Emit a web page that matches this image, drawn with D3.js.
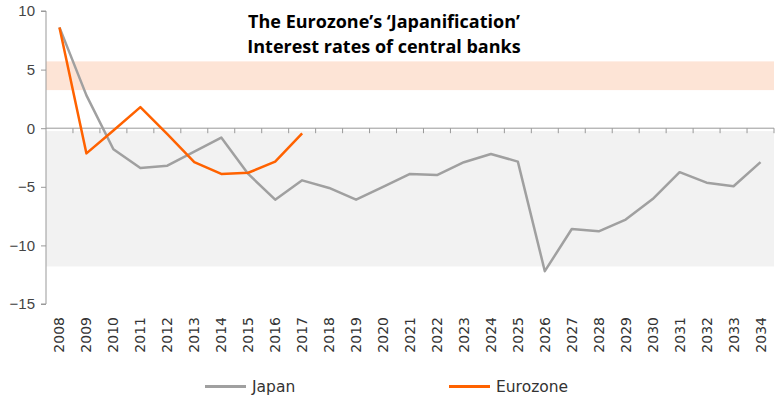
<!DOCTYPE html>
<html><head><meta charset="utf-8">
<script src="https://cdn.jsdelivr.net/npm/d3@7"></script>
<style>body{margin:0;background:#fff}svg{display:block}</style>
</head><body>
<svg id="c" width="784" height="404"></svg>
<script>
const years = d3.range(2008, 2035).map(String);
const japan = [8.6, 2.8, -1.8, -3.4, -3.2, -2.0, -0.8, -3.9, -6.1, -4.45, -5.1, -6.1, -5.0, -3.9, -4.0, -2.9, -2.2, -2.85, -12.2, -8.6, -8.8, -7.8, -6.05, -3.75, -4.65, -4.95, -2.9];
const eurozone = [8.6, -2.15, -0.2, 1.8, -0.5, -2.9, -3.9, -3.8, -2.85, -0.45];
const yTicks = [10, 5, 0, -5, -10, -15];
const orangeBand = [3.25, 5.7];
const grayBand = [-11.8, -0.25];
const titleLines = ["The Eurozone\u2019s \u2018Japanification\u2019", "Interest rates of central banks"];
const seriesNames = ["Japan", "Eurozone"];

const svg = d3.select("#c");
const L = 46, R = 774;
const x = d3.scaleBand().domain(years).range([L, R]);
const y = d3.scaleLinear().domain([-15, 10]).range([304, 11]);
const cx = d => x(d) + x.bandwidth() / 2;

// bands
svg.append("rect").attr("x", L).attr("width", R - L)
  .attr("y", y(orangeBand[1])).attr("height", y(orangeBand[0]) - y(orangeBand[1]))
  .attr("fill", "#fde4d6");
svg.append("rect").attr("x", L).attr("width", R - L)
  .attr("y", y(grayBand[1])).attr("height", y(grayBand[0]) - y(grayBand[1]))
  .attr("fill", "#f2f2f2");

// y axis
const ya = svg.append("g").attr("transform", `translate(${L},0)`)
  .call(d3.axisLeft(y).tickValues(yTicks).tickSize(5).tickPadding(6).tickFormat(d3.format("d")));
ya.select(".domain").attr("stroke", "#999").attr("d", `M-5,${y(10)}H0V${y(-15)}H-5`);
ya.selectAll(".tick line").attr("stroke", "#999");
ya.selectAll(".tick text").attr("font-family", "Liberation Sans, Arial, sans-serif").attr("font-size", 15).attr("fill", "#444");

// x axis at zero
const xa = svg.append("g").attr("transform", `translate(0,${y(0)})`);
xa.append("line").attr("x1", L).attr("x2", R).attr("stroke", "#999");
xa.selectAll("line.t").data(years.slice(1).concat(["end"])).join("line").attr("class", "t")
  .attr("x1", (d, i) => i < years.length - 1 ? x(d) : R)
  .attr("x2", (d, i) => i < years.length - 1 ? x(d) : R)
  .attr("y1", 0).attr("y2", 5).attr("stroke", "#999");

// x labels at bottom, rotated
svg.append("g").selectAll("text").data(years).join("text")
  .attr("transform", d => `translate(${cx(d) + 5},${317}) rotate(-90)`)
  .attr("text-anchor", "end")
  .attr("font-family", "DejaVu Sans, sans-serif").attr("font-size", 14).attr("fill", "#333")
  .text(d => d);

// lines
const line = d3.line().x((d, i) => cx(years[i])).y(d => y(d));
svg.append("path").datum(japan).attr("d", line).attr("fill", "none")
  .attr("stroke", "#a0a0a0").attr("stroke-width", 2.5).attr("stroke-linejoin", "round");
svg.append("path").datum(eurozone).attr("d", line).attr("fill", "none")
  .attr("stroke", "#ff6200").attr("stroke-width", 2.5).attr("stroke-linejoin", "round");

// title
svg.append("g").selectAll("text").data(titleLines).join("text")
  .attr("x", 384).attr("y", (d, i) => 28 + i * 25)
  .attr("text-anchor", "middle")
  .attr("font-family", "Open Sans, sans-serif").attr("font-weight", "bold").attr("font-size", 18)
  .attr("fill", "#000").text(d => d);

// legend
const lg = svg.append("g");
const legX = [205, 449], colors = ["#a0a0a0", "#ff6200"];
seriesNames.forEach((n, i) => {
  lg.append("line").attr("x1", legX[i]).attr("x2", legX[i] + 41).attr("y1", 386.5).attr("y2", 386.5)
    .attr("stroke", colors[i]).attr("stroke-width", 3);
  lg.append("text").attr("x", legX[i] + 47).attr("y", 392)
    .attr("font-family", "DejaVu Sans, sans-serif").attr("font-size", 15.5).attr("fill", "#333").text(n);
});
</script>
</body></html>
